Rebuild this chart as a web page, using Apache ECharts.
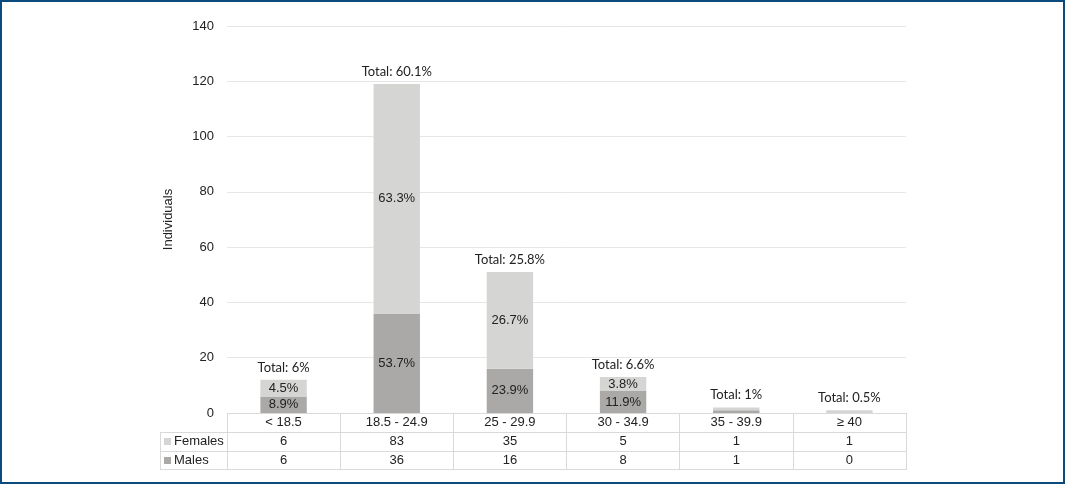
<!DOCTYPE html>
<html>
<head>
<meta charset="utf-8">
<script src="https://cdn.jsdelivr.net/npm/echarts@6/dist/echarts.min.js"></script>
<style>
html,body{margin:0;padding:0;background:#fff;}
#chart{position:absolute;left:0;top:0;width:1065px;height:491px;}
#frame{position:absolute;left:0;top:0;width:1065px;height:484px;border:2px solid #0b4a7c;box-sizing:border-box;pointer-events:none;}
</style>
</head>
<body>
<div id="chart"></div>
<div id="frame"></div>
<script>
var categories = ['< 18.5', '18.5 - 24.9', '25 - 29.9', '30 - 34.9', '35 - 39.9', '≥ 40'];
var females = [6, 83, 35, 5, 1, 1];
var males = [6, 36, 16, 8, 1, 0];
var femalePct = ['4.5%', '63.3%', '26.7%', '3.8%', '', ''];
var malePct = ['8.9%', '53.7%', '23.9%', '11.9%', '', ''];
var totalPct = ['6%', '60.1%', '25.8%', '6.6%', '1%', '0.5%'];
var yTicks = [0, 20, 40, 60, 80, 100, 120, 140];

var FONT = '"Liberation Sans", Arial, sans-serif';
var TXT = '#222';
var LINE = '#d9d9d9';
var C_F = '#d5d5d3';
var C_M = '#aba9a7';

var chart = echarts.init(document.getElementById('chart'));

function tableAxis(offset, formatter, showLabel, showTick) {
  return {
    type: 'category',
    data: categories,
    position: 'bottom',
    offset: offset,
    gridIndex: 0,
    axisLine: { show: true, lineStyle: { color: LINE, width: 1 } },
    axisTick: { show: showTick, interval: 0, length: 19, alignWithLabel: false, lineStyle: { color: LINE } },
    axisLabel: {
      show: showLabel, interval: 0, margin: 3,
      color: TXT, fontFamily: FONT, fontSize: 13,
      formatter: formatter
    },
    splitLine: { show: false }
  };
}

var option = {
  animation: false,
  backgroundColor: '#fff',
  grid: { left: 227, right: 159, top: 26, bottom: 78, containLabel: false },
  legend: {
    data: ['Females', 'Males'],
    orient: 'vertical',
    left: 164,
    top: 432,
    padding: 0,
    itemGap: 0,
    itemWidth: 7,
    itemHeight: 7,
    icon: 'rect',
    selectedMode: false,
    textStyle: { color: TXT, fontFamily: FONT, fontSize: 13, lineHeight: 19, height: 19, padding: [0, 0, 0, -2] }
  },
  xAxis: [
    tableAxis(0, function (v) { return v; }, true, true),
    tableAxis(19, function (v, i) { return String(females[i]); }, true, true),
    tableAxis(38, function (v, i) { return String(males[i]); }, true, true),
    tableAxis(56, function () { return ''; }, false, false)
  ],
  yAxis: {
    type: 'value',
    min: yTicks[0],
    max: yTicks[yTicks.length - 1],
    interval: 20,
    name: 'Individuals',
    nameLocation: 'middle',
    nameGap: 52,
    nameRotate: 90,
    nameTextStyle: { color: TXT, fontFamily: FONT, fontSize: 13 },
    axisLine: { show: false },
    axisTick: { show: false },
    axisLabel: { color: TXT, fontFamily: FONT, fontSize: 13, margin: 13 },
    splitLine: { lineStyle: { color: '#e6e6e6', width: 1 } }
  },
  series: [
    {
      name: 'Males', type: 'bar', stack: 'bmi', xAxisIndex: 0,
      data: males, barWidth: '41%',
      itemStyle: { color: C_M },
      label: {
        show: true, position: 'inside', color: TXT, fontFamily: FONT, fontSize: 13,
        formatter: function (p) { return malePct[p.dataIndex]; }
      }
    },
    {
      name: 'Females', type: 'bar', stack: 'bmi', xAxisIndex: 0,
      data: females, barWidth: '41%',
      itemStyle: { color: C_F },
      label: {
        show: true, position: 'inside', color: TXT, fontFamily: FONT, fontSize: 13,
        formatter: function (p) { return femalePct[p.dataIndex]; }
      }
    },
    {
      name: 'Total', type: 'bar', stack: 'bmi', xAxisIndex: 0,
      data: categories.map(function () { return 0; }), barWidth: '41%',
      itemStyle: { color: 'rgba(0,0,0,0)' },
      label: {
        show: true, position: 'top', distance: 6, color: TXT,
        fontFamily: 'Lato, "Open Sans", sans-serif', fontSize: 13,
        formatter: function (p) { return 'Total: ' + totalPct[p.dataIndex]; }
      }
    }
  ],
  graphic: [
    { type: 'line', shape: { x1: 160, y1: 432.5, x2: 227, y2: 432.5 }, style: { stroke: LINE, lineWidth: 1 } },
    { type: 'line', shape: { x1: 160, y1: 451.5, x2: 227, y2: 451.5 }, style: { stroke: LINE, lineWidth: 1 } },
    { type: 'line', shape: { x1: 160, y1: 469.5, x2: 227, y2: 469.5 }, style: { stroke: LINE, lineWidth: 1 } },
    { type: 'line', shape: { x1: 160.5, y1: 432, x2: 160.5, y2: 470 }, style: { stroke: LINE, lineWidth: 1 } }
  ]
};
chart.setOption(option);
</script>
</body>
</html>
